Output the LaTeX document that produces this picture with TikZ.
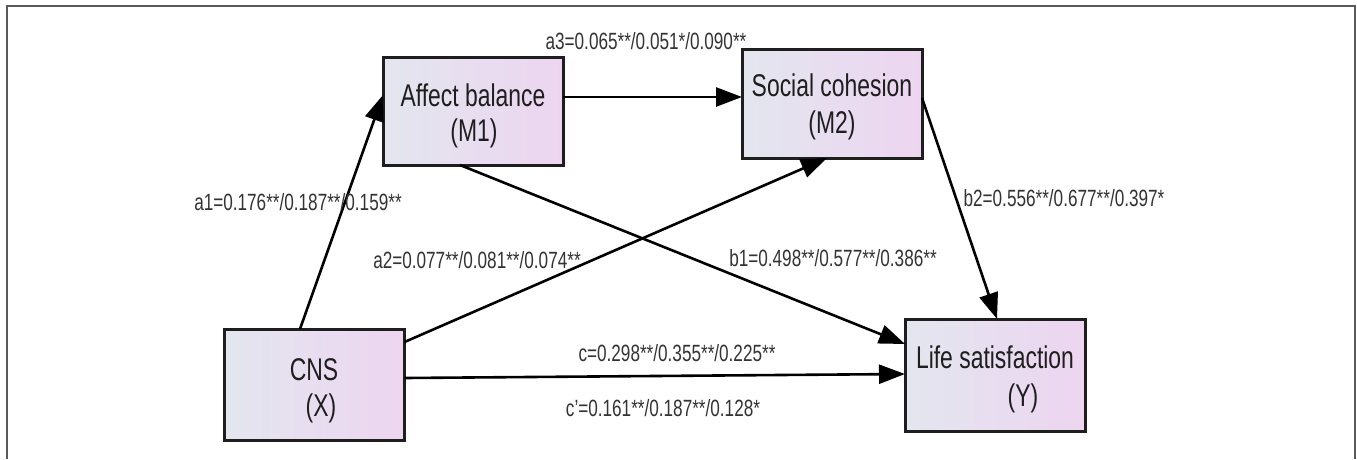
\documentclass[tikz,border=0pt]{standalone}
\usepackage{fontspec}
\setmainfont{Liberation Sans}[FakeStretch=0.73]
\usetikzlibrary{arrows.meta}
\definecolor{boxleft}{HTML}{E3E6EF}
\definecolor{boxright}{HTML}{EDD5F0}
\definecolor{ink}{HTML}{1E1E1E}
\definecolor{framegray}{HTML}{5A5A5A}
\tikzset{
  varbox/.style={draw=ink, line width=3pt, left color=boxleft, right color=boxright,
    minimum width=180pt, minimum height=#1, inner sep=0pt, outer sep=0pt},
  boxtext/.style={font=\fontsize{31.4}{34}\selectfont, text=ink, inner sep=0pt, anchor=center},
  coef/.style={font=\fontsize{23.5}{26}\selectfont, text=black!80, inner sep=0pt, anchor=center},
  path/.style={draw=black, line width=2.6pt, -{Triangle[length=26pt,width=19pt]}},
}
\begin{document}
\begin{tikzpicture}[x=1pt,y=-1pt]
\useasboundingbox (0,0) rectangle (1357,459);
% outer frame (open at the bottom)
\draw[framegray, line width=2pt] (7,459) -- (7,6) -- (1355,6) -- (1355,459);

% variables
\node[varbox=108pt] (M1) at (473,111) {};
\node[varbox=109pt] (M2) at (832,103.5) {};
\node[varbox=111pt] (X)  at (314.5,384.5) {};
\node[varbox=112pt] (Y)  at (995,375) {};

\node[boxtext] (m1a) at (473,95) {Affect balance};
\node[boxtext] (m1b) at (474,133) {(M1)};
\node[boxtext] (m2a) at (832,85) {Social cohesion};
\node[boxtext] (m2b) at (832,125) {(M2)};
\node[boxtext] (xa) at (314,370) {CNS};
\node[boxtext] (xb) at (321,408) {(X)};
\node[boxtext] (ya) at (995,357) {Life satisfaction};
\node[boxtext] (yb) at (1023,398) {(Y)};

% paths
\draw[path] ([xshift=-14.5pt]X.north) -- ([yshift=16pt]M1.west);
\draw[path] ([yshift=14pt]M1.east) -- ([yshift=6.5pt]M2.west);
\draw[path] ([yshift=42.5pt]X.east) -- ([xshift=-5pt]M2.south);
\draw[path] ([xshift=-13pt]M1.south) -- ([yshift=31pt]Y.west);
\draw[path] ([yshift=5.5pt]M2.east) -- ([xshift=2pt]Y.north);
\draw[path] ([yshift=6.5pt]X.east) -- ([yshift=1pt]Y.west);

% coefficients
\node[coef] (ca3) at (646,41) {a3=0.065**/0.051*/0.090**};
\node[coef] (ca1) at (298,202) {a1=0.176**/0.187**/0.159**};
\node[coef] (ca2) at (477,260) {a2=0.077**/0.081**/0.074**};
\node[coef] (cb1) at (833,258) {b1=0.498**/0.577**/0.386**};
\node[coef] (cb2) at (1064,198) {b2=0.556**/0.677**/0.397*};
\node[coef] (cc)  at (677,353) {c=0.298**/0.355**/0.225**};
\node[coef] (ccp) at (663,408) {c'=0.161**/0.187**/0.128*};
\end{tikzpicture}
\end{document}
